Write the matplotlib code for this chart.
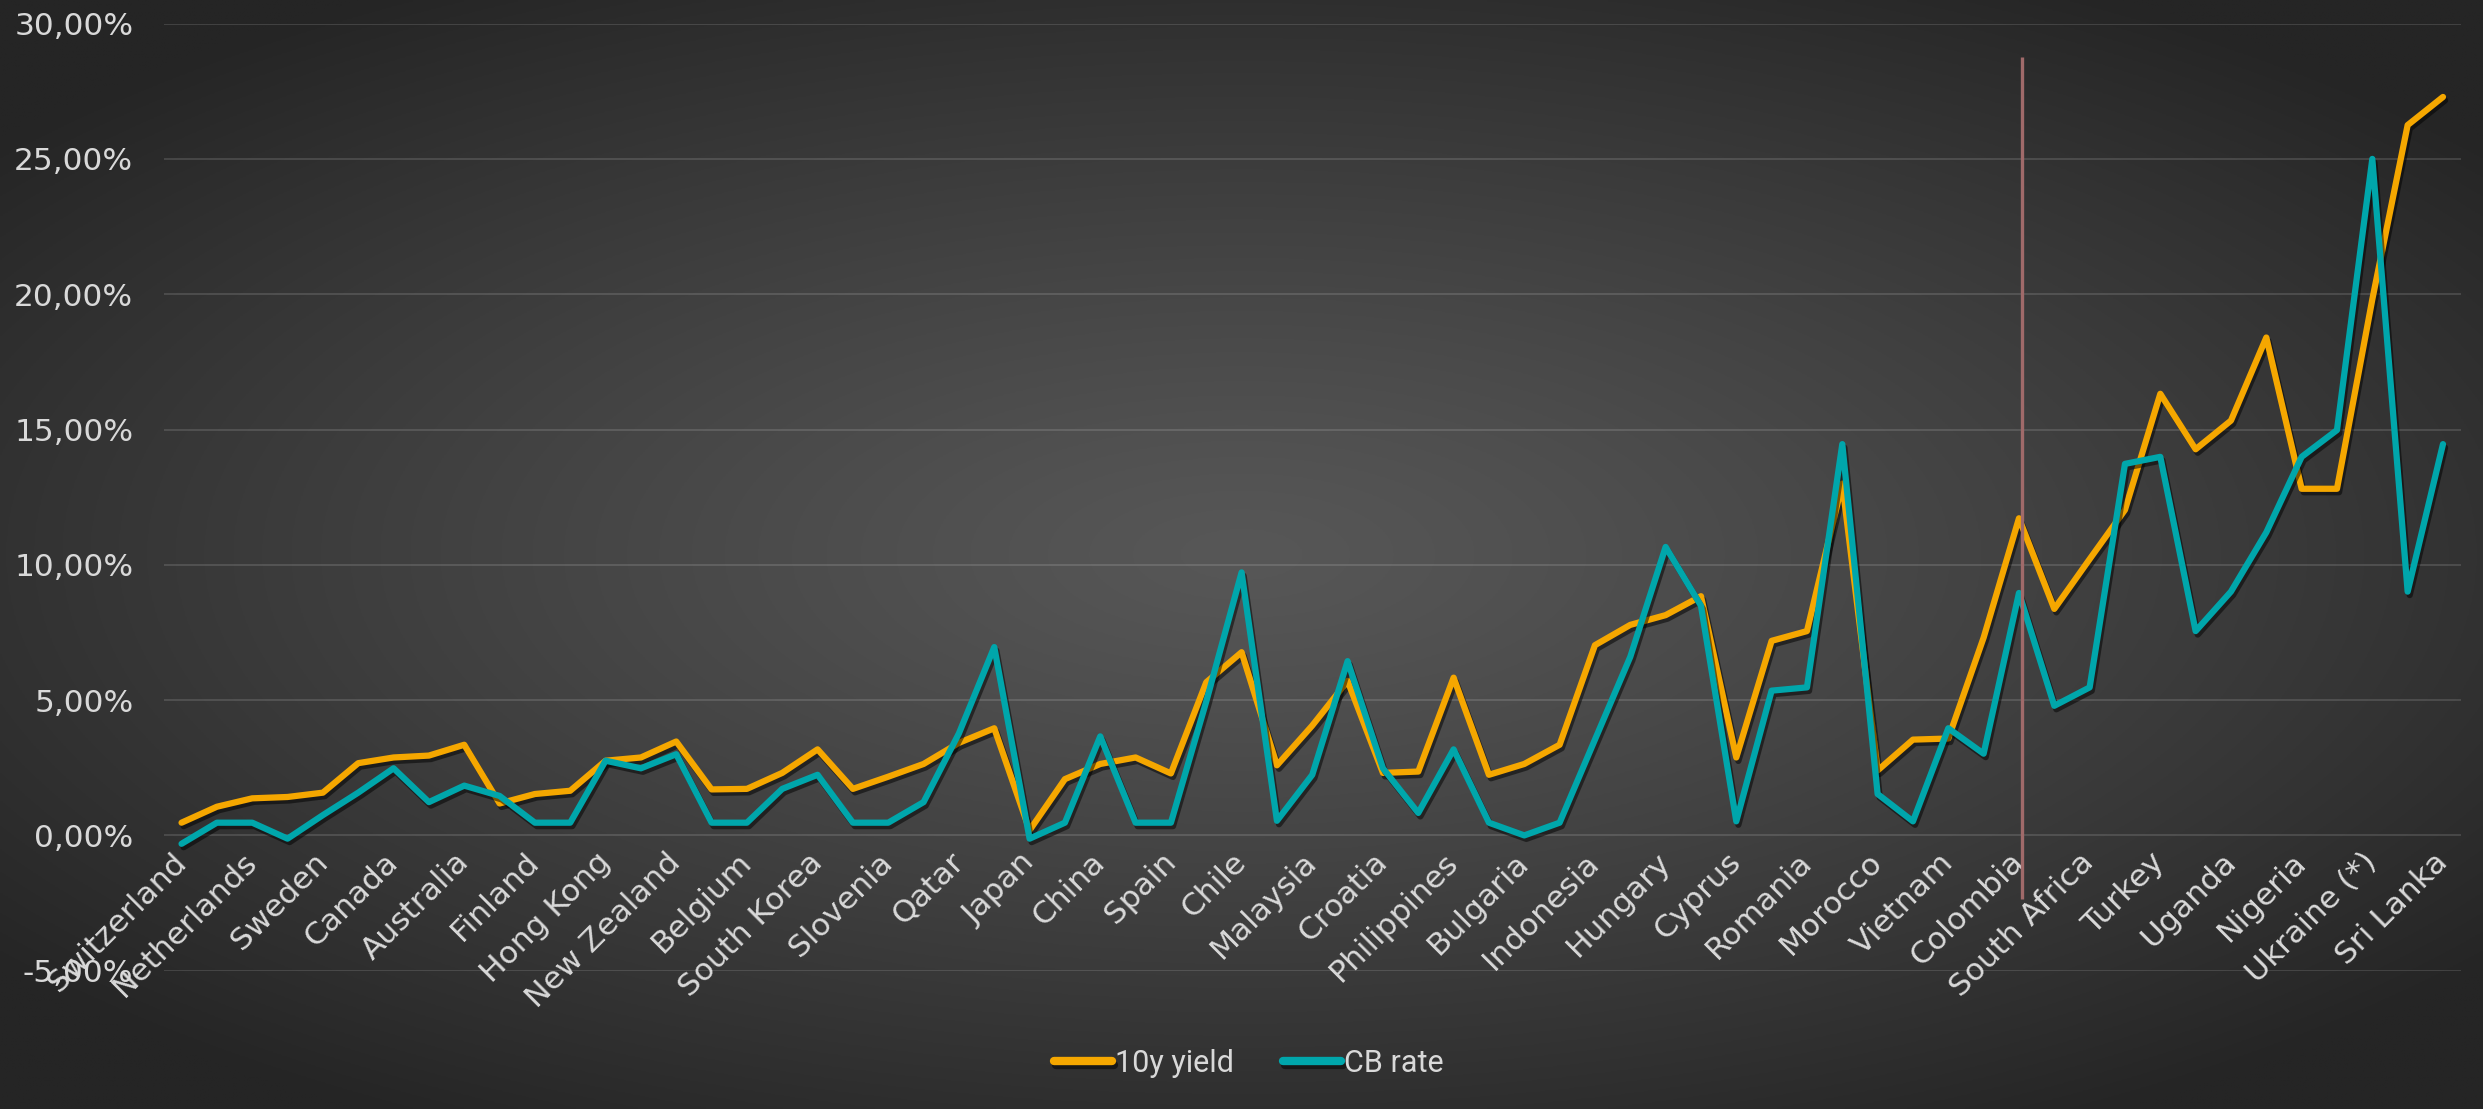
import numpy as np
import matplotlib
matplotlib.use("Agg")
import matplotlib.pyplot as plt
import matplotlib.patheffects as pe
from matplotlib.ticker import FuncFormatter

# ---- data -------------------------------------------------------------
# visible category labels (every other point of the 65-point series is labelled)
labels = ["Switzerland", "Netherlands", "Sweden", "Canada", "Australia", "Finland",
          "Hong Kong", "New Zealand", "Belgium", "South Korea", "Slovenia", "Qatar",
          "Japan", "China", "Spain", "Chile", "Malaysia", "Croatia", "Philippines",
          "Bulgaria", "Indonesia", "Hungary", "Cyprus", "Romania", "Morocco",
          "Vietnam", "Colombia", "South Africa", "Turkey", "Uganda", "Nigeria",
          "Ukraine (*)", "Sri Lanka"]

yield_10y = [0.47, 1.06, 1.37, 1.42, 1.58, 2.67, 2.88, 2.95, 3.35, 1.18,
             1.53, 1.65, 2.76, 2.88, 3.47, 1.70, 1.72, 2.31, 3.18, 1.72,
             2.17, 2.64, 3.42, 3.96, 0.19, 2.08, 2.64, 2.88, 2.29, 5.66,
             6.77, 2.59, 4.06, 5.71, 2.31, 2.36, 5.83, 2.24, 2.64, 3.35,
             7.03, 7.78, 8.14, 8.84, 2.88, 7.19, 7.55, 13.0, 2.40, 3.54,
             3.58, 7.31, 11.72, 8.37, 10.21, 12.03, 16.32, 14.27, 15.33, 18.40,
             12.81, 12.81, 19.81, 26.25, 27.29]

cb_rate = [-0.31, 0.47, 0.47, -0.12, 0.75, 1.58, 2.48, 1.23, 1.84, 1.46,
           0.47, 0.47, 2.76, 2.48, 3.00, 0.47, 0.47, 1.72, 2.24, 0.47,
           0.47, 1.23, 3.77, 6.96, -0.12, 0.47, 3.66, 0.47, 0.47, 4.95,
           9.72, 0.54, 2.24, 6.44, 2.48, 0.83, 3.18, 0.47, 0.00, 0.47,
           3.54, 6.60, 10.66, 8.49, 0.52, 5.35, 5.47, 14.46, 1.53, 0.52,
           3.96, 3.02, 8.96, 4.79, 5.47, 13.73, 13.99, 7.55, 9.01, 11.20,
           13.99, 14.98, 25.00, 9.01, 14.46]

series_names = ["10y yield", "CB rate"]
divider_label = "Colombia"
divider_span = (-2.35, 28.77)
yticks = [-5, 0, 5, 10, 15, 20, 25, 30]

# ---- styling ----------------------------------------------------------
YELLOW = "#F5A700"
TEAL = "#00A6AB"
TXT = "#D9D9D9"

W, H, DPI = 2483, 1109, 100
fig = plt.figure(figsize=(W / DPI, H / DPI), dpi=DPI)

# radial dark-grey background
bg = fig.add_axes([0, 0, 1, 1], zorder=-10)
yy, xx = np.mgrid[0:1:400j, 0:1:900j]
cx, cy = 0.5, 0.5
r = np.sqrt(((xx - cx) / 0.8) ** 2 + ((yy - cy) / 0.75) ** 2)
r = np.clip(r / 0.8, 0, 1)
c0 = np.array([0x57, 0x57, 0x57]) / 255.0
c1 = np.array([0x25, 0x25, 0x25]) / 255.0
img = c0[None, None, :] * (1 - r[..., None] ** 1.2) + c1[None, None, :] * (r[..., None] ** 1.2)
bg.imshow(img, aspect="auto", extent=[0, 1, 0, 1], origin="upper")
bg.set_axis_off()

ax = fig.add_axes([0.066, 0.1247, 0.925, 0.854])
ax.set_facecolor("none")

n = len(yield_10y)
x = np.arange(n)

shadow = [pe.SimpleLineShadow(offset=(1.5, -2.5), shadow_color="black", alpha=0.5),
          pe.Normal()]
ax.plot(x, yield_10y, color=YELLOW, lw=4.5, label=series_names[0],
        solid_joinstyle="round", solid_capstyle="round", path_effects=shadow, zorder=3)
ax.plot(x, cb_rate, color=TEAL, lw=4.5, label=series_names[1],
        solid_joinstyle="round", solid_capstyle="round", path_effects=shadow, zorder=4)

# vertical divider at Colombia
xd = 2 * labels.index(divider_label) + 0.1
ax.plot([xd, xd], list(divider_span), color="#A06A6A", lw=2.4, zorder=5,
        solid_capstyle="butt")

ax.set_xlim(-0.5, n - 0.5)
ax.set_ylim(yticks[0], yticks[-1])
ax.set_yticks(yticks)
ax.yaxis.set_major_formatter(FuncFormatter(lambda v, p: f"{v:.2f}".replace(".", ",") + "%"))
ax.grid(axis="y", color="white", alpha=0.13, lw=1.5)
ax.grid(axis="x", visible=False)
ax.set_axisbelow(True)

for s in ax.spines.values():
    s.set_visible(False)
ax.spines["bottom"].set_position(("data", 0))

ax.set_xticks(np.arange(0, n, 2))
ax.set_xticklabels(labels, rotation=45, ha="right", va="center",
                   rotation_mode="anchor")
ax.tick_params(axis="x", length=0, pad=16, labelsize=22.5, labelcolor=TXT)
ax.tick_params(axis="y", length=0, pad=22, labelsize=22.5, labelcolor=TXT)

leg = fig.legend(loc="center", bbox_to_anchor=(0.503, 0.041), ncol=2, frameon=False,
                 handlelength=1.9, handletextpad=0.1, columnspacing=1.6,
                 prop={"family": "Roboto", "size": 22})
for t in leg.get_texts():
    t.set_color(TXT)
for h in leg.get_lines():
    h.set_linewidth(6)
    h.set_solid_capstyle("round")

fig.savefig("out.png", dpi=DPI)
